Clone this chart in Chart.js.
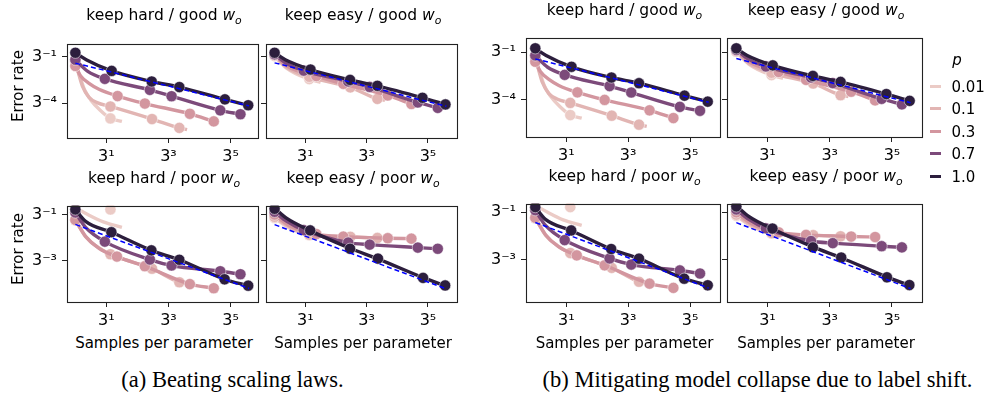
<!DOCTYPE html>
<html><head><meta charset="utf-8">
<script src="https://cdn.jsdelivr.net/npm/chart.js@4.4.1/dist/chart.umd.min.js"></script>
<style>
html,body{margin:0;padding:0;background:#fff;}
body{width:985px;height:399px;position:relative;overflow:hidden;font-family:"DejaVu Sans",sans-serif;color:#000;}
canvas{position:absolute;}
.txt{position:absolute;white-space:nowrap;line-height:1;}
.title{font-size:15.5px;}
.lab{font-size:15px;}
.cap{font-family:"Liberation Serif",serif;font-size:22.5px;}
.title sub{font-size:70%;vertical-align:-0.3em;line-height:0;}
.hand{position:absolute;height:3px;width:11px;}
</style></head><body>
<script>
// ---------- data (x = log3 samples per parameter, y = log3 error rate) ----------
const P_VALUES = ['0.01', '0.1', '0.3', '0.7', '1.0'];
const X_TICKS = [1, 3, 5];
const Y_TICKS_TOP = [-1, -4];
const Y_TICKS_BOTTOM = [-1, -3];

// keep hard / good w_o
const HG_P001_PTS = [[0,-1.35],[1.13,-4.98]];
const HG_P001_FIT = [[0,-1.35],[0.15,-2.3],[0.3,-3.15],[0.5,-3.8],[0.8,-4.45],[1.13,-4.98],[1.5,-5.17]];
const HG_P01_PTS  = [[0,-1.3],[1.13,-4.21],[2.47,-5.02],[3.35,-5.59]];
const HG_P01_FIT  = [[0,-1.3],[0.12,-2.2],[0.23,-2.91],[0.44,-3.62],[0.7,-3.96],[1.13,-4.21],[2.47,-5.02],[3.35,-5.59],[3.6,-5.7]];
const HG_P03_PTS  = [[0,-1.6],[1.36,-3.54],[2.24,-4.02],[3.69,-4.68],[4.46,-5.17]];
const HG_P03_FIT  = [[0,-1.6],[0.17,-2.24],[0.44,-2.72],[0.76,-3.1],[1.36,-3.54],[2.24,-4.02],[3.69,-4.68],[4.46,-5.17]];
const HG_P07_PTS  = [[0,-1.2],[0.95,-2.43],[2.4,-3.14],[3.1,-3.55],[4.67,-4.46],[5.32,-4.71]];
const HG_P07_FIT  = [[0,-1.2],[0.4,-1.95],[0.95,-2.43],[2.4,-3.14],[3.1,-3.55],[4.67,-4.46],[5.32,-4.71]];
const HG_P10_PTS  = [[0,-0.75],[1.17,-1.92],[2.46,-2.6],[3.35,-2.96],[4.82,-3.75],[5.57,-4.13]];
const HG_P10_FIT  = [[0,-0.75],[0.35,-1.2],[1.17,-1.92],[2.46,-2.6],[3.35,-2.96],[4.82,-3.75],[5.57,-4.13]];
const HG_LAW      = [[0,-1.42],[5.6,-4.17]];

// keep easy / good w_o
const EG_P001_PTS = [[0,-0.95],[1.13,-2.45]];
const EG_P001_FIT = [[0,-0.95],[0.4,-1.75],[1.13,-2.45],[1.5,-2.65]];
const EG_P01_PTS  = [[0,-0.95],[1.13,-2.3],[2.47,-2.98],[3.35,-3.72]];
const EG_P01_FIT  = [[0,-0.95],[0.4,-1.7],[1.13,-2.3],[2.47,-2.98],[3.35,-3.72],[3.6,-3.8]];
const EG_P03_PTS  = [[0,-0.9],[1.36,-2.25],[2.24,-2.75],[3.69,-3.5],[4.46,-4.05]];
const EG_P03_FIT  = [[0,-0.9],[0.4,-1.6],[1.36,-2.25],[2.24,-2.75],[3.69,-3.5],[4.46,-4.05]];
const EG_P07_PTS  = [[0,-0.85],[0.95,-1.9],[2.4,-2.6],[3.1,-2.95],[4.67,-3.95],[5.32,-4.3]];
const EG_P07_FIT  = [[0,-0.85],[0.4,-1.45],[0.95,-1.9],[2.4,-2.6],[3.1,-2.95],[4.67,-3.95],[5.32,-4.3]];
const EG_P10_PTS  = [[0,-0.75],[1.17,-1.83],[2.46,-2.5],[3.35,-2.88],[4.82,-3.65],[5.57,-4.08]];
const EG_P10_FIT  = [[0,-0.75],[0.35,-1.2],[1.17,-1.83],[2.46,-2.5],[3.35,-2.88],[4.82,-3.65],[5.57,-4.08]];
const EG_LAW      = [[0,-1.4],[5.6,-4.2]];

// keep hard / poor w_o
const HP_P001_PTS = [[0,-0.72],[1.13,-0.78]];
const HP_P001_FIT = [[0,-0.7],[0.4,-1.0],[0.9,-1.32],[1.5,-1.56]];
const HP_P01_PTS  = [[0,-1.25],[1.13,-2.73],[2.47,-3.36],[3.35,-3.95]];
const HP_P01_FIT  = [[0,-1.25],[0.35,-2.0],[0.7,-2.4],[1.13,-2.73],[2.47,-3.36],[3.35,-3.95],[3.6,-4.02]];
const HP_P03_PTS  = [[0,-1.23],[1.34,-2.83],[2.24,-3.25],[3.69,-4.03],[4.46,-4.21]];
const HP_P03_FIT  = [[0,-1.23],[0.33,-1.95],[0.76,-2.47],[1.34,-2.83],[2.24,-3.25],[3.69,-4.03],[4.46,-4.21]];
const HP_P07_PTS  = [[0,-0.91],[0.95,-2.18],[2.4,-2.96],[3.1,-3.22],[4.67,-3.47],[5.32,-3.6]];
const HP_P07_FIT  = [[0,-0.91],[0.33,-1.56],[0.95,-2.18],[2.4,-2.96],[3.1,-3.22],[4.67,-3.47],[5.32,-3.6]];
const HP_P10_PTS  = [[0,-0.78],[1.16,-1.77],[2.45,-2.56],[3.35,-2.97],[4.81,-3.82],[5.57,-4.1]];
const HP_P10_FIT  = [[0,-0.78],[0.33,-1.3],[1.16,-1.77],[2.45,-2.56],[3.35,-2.97],[4.81,-3.82],[5.57,-4.1]];
const HP_LAW      = [[0,-1.43],[5.6,-4.22]];

// keep easy / poor w_o
const EP_P001_PTS = [[0,-1.15],[1.13,-1.9]];
const EP_P001_FIT = [[0,-1.15],[0.5,-1.6],[1.13,-1.9],[1.5,-1.95]];
const EP_P01_PTS  = [[0,-1.1],[1.13,-1.88],[2.47,-1.97],[3.35,-2.02]];
const EP_P01_FIT  = [[0,-1.1],[0.5,-1.55],[1.13,-1.88],[2.47,-1.97],[3.35,-2.02],[3.6,-2.03]];
const EP_P03_PTS  = [[0,-1.0],[1.36,-1.85],[2.24,-1.96],[3.69,-2.03],[4.46,-2.05]];
const EP_P03_FIT  = [[0,-1.0],[0.5,-1.5],[1.36,-1.85],[2.24,-1.96],[3.69,-2.03],[4.46,-2.05]];
const EP_P07_PTS  = [[0,-0.88],[0.95,-1.68],[2.4,-2.22],[3.1,-2.31],[4.67,-2.44],[5.32,-2.49]];
const EP_P07_FIT  = [[0,-0.88],[0.4,-1.3],[0.95,-1.68],[2.4,-2.22],[3.1,-2.31],[4.67,-2.44],[5.32,-2.49]];
const EP_P10_PTS  = [[0,-0.75],[1.16,-1.69],[2.46,-2.49],[3.37,-2.92],[4.84,-3.76],[5.56,-4.09]];
const EP_P10_FIT  = [[0,-0.72],[0.4,-1.17],[1.16,-1.7],[2.46,-2.47],[3.37,-2.93],[4.84,-3.75],[5.56,-4.1]];
const EP_LAW      = [[0,-1.44],[5.6,-4.24]];

// ---------- styles ----------
const P_COLORS = ['#ebcbc6', '#e2b5b3', '#d3969f', '#7c4a7a', '#2c1e3d'];
const SUP = {'1':'\u00b9','3':'\u00b3','5':'\u2075','-1':'\u207b\u00b9','-3':'\u207b\u00b3','-4':'\u207b\u2074'};

const HG = [[HG_P001_PTS,HG_P001_FIT],[HG_P01_PTS,HG_P01_FIT],[HG_P03_PTS,HG_P03_FIT],[HG_P07_PTS,HG_P07_FIT],[HG_P10_PTS,HG_P10_FIT]];
const EG = [[EG_P001_PTS,EG_P001_FIT],[EG_P01_PTS,EG_P01_FIT],[EG_P03_PTS,EG_P03_FIT],[EG_P07_PTS,EG_P07_FIT],[EG_P10_PTS,EG_P10_FIT]];
const HP = [[HP_P001_PTS,HP_P001_FIT],[HP_P01_PTS,HP_P01_FIT],[HP_P03_PTS,HP_P03_FIT],[HP_P07_PTS,HP_P07_FIT],[HP_P10_PTS,HP_P10_FIT]];
const EP = [[EP_P001_PTS,EP_P001_FIT],[EP_P01_PTS,EP_P01_FIT],[EP_P03_PTS,EP_P03_FIT],[EP_P07_PTS,EP_P07_FIT],[EP_P10_PTS,EP_P10_FIT]];

const PANELS = [
  {box:[67,32,194,106],  xr:[-0.27,5.88], yr:[-6.24,-0.16], yt:Y_TICKS_TOP,    lab:true,  s:HG, law:HG_LAW},
  {box:[266,32,194,106], xr:[-0.28,5.94], yr:[-6.24,-0.16], yt:Y_TICKS_TOP,    lab:false, s:EG, law:EG_LAW},
  {box:[67,194,194,108], xr:[-0.27,5.88], yr:[-4.81,-0.61], yt:Y_TICKS_BOTTOM, lab:true,  s:HP, law:HP_LAW},
  {box:[266,194,194,108],xr:[-0.28,5.94], yr:[-4.81,-0.61], yt:Y_TICKS_BOTTOM, lab:false, s:EP, law:EP_LAW},
  {box:[526,26,197,111], xr:[-0.3,5.96],  yr:[-6.37,-0.07], yt:Y_TICKS_TOP,    lab:true,  s:HG, law:HG_LAW},
  {box:[727,26,198,111], xr:[-0.3,5.96],  yr:[-6.37,-0.07], yt:Y_TICKS_TOP,    lab:false, s:EG, law:EG_LAW},
  {box:[526,192,197,110],xr:[-0.3,5.96],  yr:[-4.81,-0.63], yt:Y_TICKS_BOTTOM, lab:true,  s:HP, law:HP_LAW},
  {box:[727,192,198,110],xr:[-0.3,5.96],  yr:[-4.81,-0.63], yt:Y_TICKS_BOTTOM, lab:false, s:EP, law:EP_LAW}
];

const frame = {id:'frame', afterDraw(c){
  const a=c.chartArea, x=c.ctx; x.save(); x.strokeStyle='#222'; x.lineWidth=1.1;
  x.strokeRect(Math.round(a.left)+0.5, Math.round(a.top)+0.5, Math.round(a.right-a.left), Math.round(a.bottom-a.top)); x.restore();
}};

const toXY = arr => arr.map(([x,y]) => ({x, y}));

function makePanel(p){
  const YW=50, XH=30, PT=3, PR=3;
  const [l,t,w,h] = p.box;
  const cv = document.createElement('canvas');
  cv.width = w+YW+PR; cv.height = h+XH+PT;
  cv.style.left=(l-YW)+'px'; cv.style.top=(t-PT)+'px';
  cv.style.width=cv.width+'px'; cv.style.height=cv.height+'px';
  document.body.appendChild(cv);
  const ds=[];
  p.s.forEach(([pts,fit],i)=>{
    const col=P_COLORS[i];
    ds.push({data:toXY(fit),borderColor:col,borderWidth:3.4,pointRadius:0,cubicInterpolationMode:'monotone',fill:false,order:2*(5-i)+1});
    ds.push({data:toXY(pts),showLine:false,pointRadius:5.6,pointBackgroundColor:col,pointBorderColor:'rgba(255,255,255,0.85)',pointBorderWidth:0.6,order:2*(5-i)});
  });
  ds.push({data:toXY(p.law),borderColor:'#0000ff',borderWidth:1.5,borderDash:[5,3],pointRadius:0,order:0});
  const tickFont={family:'DejaVu Sans',size:16};
  new Chart(cv,{type:'line',data:{datasets:ds},plugins:[frame],options:{
    responsive:false,animation:false,devicePixelRatio:1,events:[],
    layout:{padding:{top:PT,right:PR,left:0,bottom:0}},
    plugins:{legend:{display:false},tooltip:{enabled:false}},
    scales:{
      x:{type:'linear',min:p.xr[0],max:p.xr[1],
        afterBuildTicks:s=>{s.ticks=X_TICKS.map(v=>({value:v}));},
        afterFit:s=>{s.height=XH;},
        ticks:{callback:v=>'3'+SUP[v],font:tickFont,color:'#000',padding:4,maxRotation:0,autoSkip:false},
        grid:{display:true,drawOnChartArea:false,drawTicks:true,tickLength:5,color:'#222',lineWidth:1},
        border:{display:false}},
      y:{type:'linear',min:p.yr[0],max:p.yr[1],
        afterBuildTicks:s=>{s.ticks=p.yt.map(v=>({value:v}));},
        afterFit:s=>{s.width=YW;},
        ticks:{callback:v=>p.lab?'3'+SUP[v]:'',font:tickFont,color:'#000',padding:5,autoSkip:false},
        grid:{display:true,drawOnChartArea:false,drawTicks:true,tickLength:5,color:'#222',lineWidth:1},
        border:{display:false}}
    }}});
}
PANELS.forEach(makePanel);

function addText(html, cx, cy, cls, rot){
  const d=document.createElement('div');
  d.className='txt '+cls; d.innerHTML=html;
  d.style.left=cx+'px'; d.style.top=cy+'px';
  d.style.transform='translate(-50%,-50%)'+(rot?' rotate(-90deg)':'');
  document.body.appendChild(d);
}
const T_HG='keep hard / good <i>w<sub>o</sub></i>', T_EG='keep easy / good <i>w<sub>o</sub></i>';
const T_HP='keep hard / poor <i>w<sub>o</sub></i>', T_EP='keep easy / poor <i>w<sub>o</sub></i>';
addText(T_HG,164,15.6,'title'); addText(T_EG,363,15.6,'title');
addText(T_HP,164,179,'title');  addText(T_EP,363,179,'title');
addText(T_HG,624.5,11,'title'); addText(T_EG,826,11,'title');
addText(T_HP,624.5,176.5,'title'); addText(T_EP,826,176.5,'title');
[164,363,624.5,826].forEach(x=>addText('Samples per parameter',x,342.5,'lab'));
addText('Error rate',17.5,86,'lab',true); addText('Error rate',17.5,249,'lab',true);
addText('(a) Beating scaling laws.',232.5,379.5,'cap');
addText('(b) Mitigating model collapse due to label shift.',757.5,379.5,'cap');

// legend
addText('<i>p</i>',957,60,'lab');
const LEG_Y=[86,108.5,131,153.5,176.5];
P_VALUES.forEach((v,i)=>{
  const hnd=document.createElement('div'); hnd.className='hand';
  hnd.style.left='930px'; hnd.style.top=(LEG_Y[i]-1.5)+'px'; hnd.style.background=P_COLORS[i];
  document.body.appendChild(hnd);
  const d=document.createElement('div'); d.className='txt lab'; d.textContent=v;
  d.style.left='951.5px'; d.style.top=(LEG_Y[i]+0.5)+'px'; d.style.transform='translate(0,-50%)';
  document.body.appendChild(d);
});
</script>
</body></html>
